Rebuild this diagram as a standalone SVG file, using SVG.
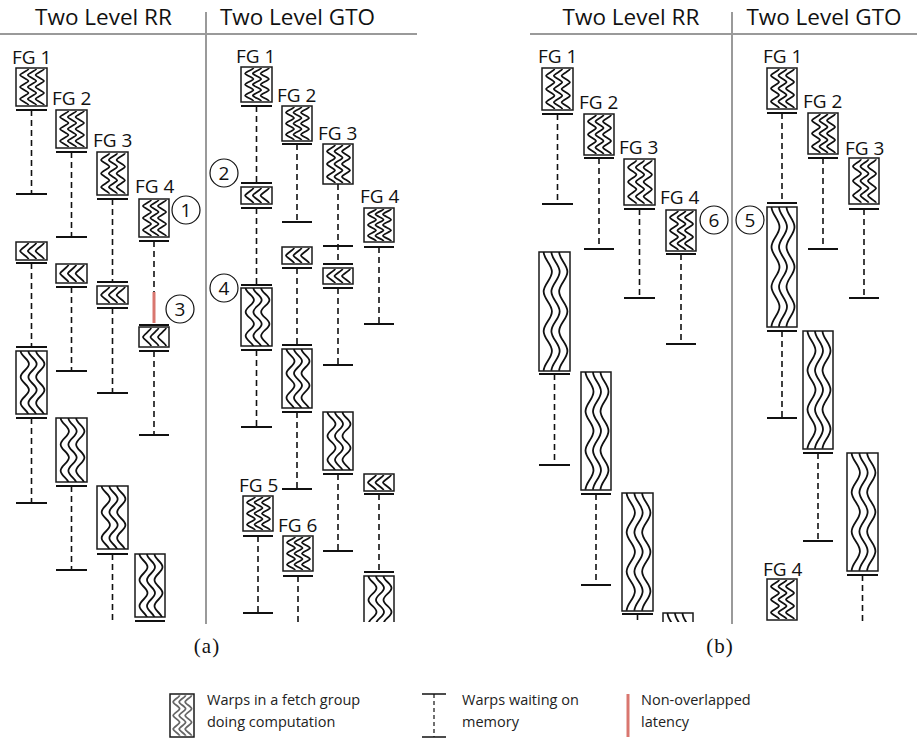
<svg xmlns="http://www.w3.org/2000/svg" xmlns:xlink="http://www.w3.org/1999/xlink" width="917" height="743" viewBox="0 0 917 743" style="color:#111">
<style>
.box{fill:#fff;stroke:#1a1a1a;stroke-width:1.5}
.wave{fill:none;stroke:currentColor;stroke-width:1.8;vector-effect:non-scaling-stroke}
.bar{stroke:#111;stroke-width:2.2}
.dash{stroke:#111;stroke-width:1.6;stroke-dasharray:6 4;fill:none}
.red{stroke:#d9766f;stroke-width:3}
.div{stroke:#9a9a9a;stroke-width:2}
.lbl{font-family:"Open Sans","Noto Sans",sans-serif;font-size:19px;fill:#111}
.hdr{font-family:"Open Sans","Noto Sans",sans-serif;font-size:22.5px;fill:#111;text-anchor:middle}
.circ{fill:#fff;stroke:#111;stroke-width:1.2}
.num{font-family:"Open Sans","Noto Sans",sans-serif;font-size:19px;fill:#111;text-anchor:middle}
.leg{font-family:"Open Sans","Noto Sans",sans-serif;font-size:14.5px;fill:#222}
.cap{font-family:"Liberation Serif",serif;font-size:21px;fill:#111;text-anchor:middle;letter-spacing:1px}
</style>
<defs>
<symbol id="fg" viewBox="0 0 30 38" preserveAspectRatio="none">
<path class="wave" d="M12,1 c0,1.5 -8,4.5 -8,6 s8,4.5 8,6 s-8,4.5 -8,6 s8,4.5 8,6 s-8,4.5 -8,6 s8,4.5 8,6 M19.5,1 c0,1.5 -8,4.5 -8,6 s8,4.5 8,6 s-8,4.5 -8,6 s8,4.5 8,6 s-8,4.5 -8,6 s8,4.5 8,6 M27,1 c0,1.5 -8,4.5 -8,6 s8,4.5 8,6 s-8,4.5 -8,6 s8,4.5 8,6 s-8,4.5 -8,6 s8,4.5 8,6"/>
</symbol>
<symbol id="sm" viewBox="0 0 30 18" preserveAspectRatio="none">
<path class="wave" d="M12,1 c0,1.5 -8,6.5 -8,8 s8,6.5 8,8 M19.5,1 c0,1.5 -8,6.5 -8,8 s8,6.5 8,8 M27,1 c0,1.5 -8,6.5 -8,8 s8,6.5 8,8"/>
</symbol>
<symbol id="tall" viewBox="0 0 30 63" preserveAspectRatio="none">
<path class="wave" d="M4.5,0 c0,5 8,8 8,13 s-8,8 -8,13 s8,8 8,13 s-8,8 -8,13 s8,8 8,13 M12,0 c0,5 8,8 8,13 s-8,8 -8,13 s8,8 8,13 s-8,8 -8,13 s8,8 8,13 M19.5,0 c0,5 8,8 8,13 s-8,8 -8,13 s8,8 8,13 s-8,8 -8,13 s8,8 8,13"/>
</symbol>
<symbol id="tall2" viewBox="0 0 30 119" preserveAspectRatio="none">
<path class="wave" d="M4.5,0 c0,7 8,12.5 8,19.8 s-8,12.5 -8,19.8 s8,12.5 8,19.8 s-8,12.5 -8,19.8 s8,12.5 8,19.8 s-8,12.5 -8,19.8 M12,0 c0,7 8,12.5 8,19.8 s-8,12.5 -8,19.8 s8,12.5 8,19.8 s-8,12.5 -8,19.8 s8,12.5 8,19.8 s-8,12.5 -8,19.8 M19.5,0 c0,7 8,12.5 8,19.8 s-8,12.5 -8,19.8 s8,12.5 8,19.8 s-8,12.5 -8,19.8 s8,12.5 8,19.8 s-8,12.5 -8,19.8"/>
</symbol>
<clipPath id="clip"><rect x="0" y="0" width="917" height="622"/></clipPath>
</defs>
<rect width="917" height="743" fill="#fff"/>

<g id="frame">
<line class="div" x1="0" y1="34" x2="417" y2="34"/>
<line class="div" x1="206" y1="12" x2="206" y2="624"/>
<line class="div" x1="530" y1="34" x2="917" y2="34"/>
<line class="div" x1="732" y1="12" x2="732" y2="624"/>
<text class="hdr" x="103.5" y="25">Two Level RR</text>
<text class="hdr" x="297.5" y="25">Two Level GTO</text>
<text class="hdr" x="631" y="25">Two Level RR</text>
<text class="hdr" x="824" y="25">Two Level GTO</text>
<text class="cap" x="207" y="653">(a)</text>
<text class="cap" x="720" y="653">(b)</text>
</g>

<g id="connectors" clip-path="url(#clip)">
<!-- left RR -->
<path class="dash" d="M31.5,110V194 M31.5,263V347 M31.5,418V503"/>
<path class="bar" d="M16,110H47 M16,194H47 M16,263H47 M16,347H47 M16,418H47 M16,503H47"/>
<path class="dash" d="M71.5,152V237 M71.5,287V371 M71.5,486V570"/>
<path class="bar" d="M56,152H87 M56,237H87 M56,287H87 M56,371H87 M56,486H87 M56,570H87"/>
<path class="dash" d="M112.5,199V282 M112.5,308V393 M112.5,554V625"/>
<path class="bar" d="M97,199H128 M97,282H128 M97,308H128 M97,393H128 M97,554H128"/>
<path class="dash" d="M154,241V292 M154,351V435"/>
<line class="red" x1="154" y1="292" x2="154" y2="323"/>
<path class="bar" d="M139,241H169 M139,325H169 M139,351H169 M139,435H169 M135,621H165"/>
<!-- left GTO -->
<path class="dash" d="M256.5,106V183 M256.5,208V285 M256.5,350V427 M258,536V613"/>
<path class="bar" d="M241,106H272 M241,183H272 M241,208H272 M241,285H272 M241,350H272 M241,427H272 M243,536H273 M243,613H273"/>
<path class="dash" d="M297,144V222 M297,268V345 M297,412V489 M298,576V625"/>
<path class="bar" d="M282,144H312 M282,222H312 M282,268H312 M282,345H312 M282,412H312 M282,489H312 M283,576H313"/>
<path class="dash" d="M338,184V264 M338,288V365 M338,474V551"/>
<path class="bar" d="M323,246H353 M323,264H353 M323,288H353 M323,365H353 M323,474H353 M323,551H353"/>
<path class="dash" d="M379,247V324 M379,494V572"/>
<path class="bar" d="M364,247H394 M364,324H394 M364,494H394 M364,572H394"/>
<!-- right RR -->
<path class="dash" d="M557.5,114V204 M554.5,374V465"/>
<path class="bar" d="M542,114H573 M542,204H573 M539,374H570 M539,465H570"/>
<path class="dash" d="M599,158V249 M596,494V585"/>
<path class="bar" d="M584,158H614 M584,249H614 M581,494H611 M581,585H611"/>
<path class="dash" d="M639.5,209V298 M637.5,614V625"/>
<path class="bar" d="M624,209H655 M624,298H655 M622,614H653"/>
<path class="dash" d="M681,254V344"/>
<path class="bar" d="M666,254H696 M666,344H696"/>
<!-- right GTO -->
<path class="dash" d="M782,113V203 M782,331V418"/>
<path class="bar" d="M767,113H797 M767,203H797 M767,331H797 M767,418H797"/>
<path class="dash" d="M823,158V249 M818,453V541"/>
<path class="bar" d="M808,158H838 M808,249H838 M803,453H833 M803,541H833"/>
<path class="dash" d="M864,209V298 M862.5,575V625"/>
<path class="bar" d="M849,209H879 M849,298H879 M847,575H878"/>
</g>

<g id="nodes" clip-path="url(#clip)">
<!-- left RR col1 -->
<g id="lrr-fg1"><text class="lbl" x="12" y="64">FG 1</text><rect class="box" x="16" y="68" width="31" height="38"/><use href="#fg" x="16" y="68" width="31" height="38"/></g>
<g id="lrr-fg1-b"><rect class="box" x="16" y="242" width="31" height="18"/><use href="#sm" x="16" y="242" width="31" height="18"/></g>
<g id="lrr-fg1-c"><rect class="box" x="16" y="351" width="31" height="63"/><use href="#tall" x="16" y="351" width="31" height="63"/></g>
<!-- col2 -->
<g id="lrr-fg2"><text class="lbl" x="52" y="105">FG 2</text><rect class="box" x="56" y="110" width="31" height="38"/><use href="#fg" x="56" y="110" width="31" height="38"/></g>
<g id="lrr-fg2-b"><rect class="box" x="56" y="264" width="31" height="19"/><use href="#sm" x="56" y="264" width="31" height="19"/></g>
<g id="lrr-fg2-c"><rect class="box" x="56" y="418" width="31" height="64"/><use href="#tall" x="56" y="418" width="31" height="64"/></g>
<!-- col3 -->
<g id="lrr-fg3"><text class="lbl" x="93" y="147">FG 3</text><rect class="box" x="97" y="152" width="31" height="43"/><use href="#fg" x="97" y="152" width="31" height="43"/></g>
<g id="lrr-fg3-b"><rect class="box" x="97" y="286" width="31" height="18"/><use href="#sm" x="97" y="286" width="31" height="18"/></g>
<g id="lrr-fg3-c"><rect class="box" x="97" y="486" width="31" height="63"/><use href="#tall" x="97" y="486" width="31" height="63"/></g>
<!-- col4 -->
<g id="lrr-fg4"><text class="lbl" x="135" y="193">FG 4</text><rect class="box" x="139" y="199" width="30" height="38"/><use href="#fg" x="139" y="199" width="30" height="38"/></g>
<g id="lrr-fg4-b"><rect class="box" x="139" y="327" width="30" height="20"/><use href="#sm" x="139" y="327" width="30" height="20"/></g>
<g id="lrr-fg4-c"><rect class="box" x="135" y="554" width="30" height="63"/><use href="#tall" x="135" y="554" width="30" height="63"/></g>

<!-- left GTO col1 -->
<g id="lgto-fg1"><text class="lbl" x="236" y="63">FG 1</text><rect class="box" x="241" y="67" width="31" height="35"/><use href="#fg" x="241" y="67" width="31" height="35"/></g>
<g id="lgto-fg1-b"><rect class="box" x="241" y="187" width="31" height="17"/><use href="#sm" x="241" y="187" width="31" height="17"/></g>
<g id="lgto-fg1-c"><rect class="box" x="241" y="288" width="31" height="58"/><use href="#tall" x="241" y="288" width="31" height="58"/></g>
<g id="lgto-fg5"><text class="lbl" x="239" y="492">FG 5</text><rect class="box" x="243" y="496" width="30" height="35"/><use href="#fg" x="243" y="496" width="30" height="35"/></g>
<!-- col2 -->
<g id="lgto-fg2"><text class="lbl" x="277" y="102">FG 2</text><rect class="box" x="282" y="106" width="30" height="35"/><use href="#fg" x="282" y="106" width="30" height="35"/></g>
<g id="lgto-fg2-b"><rect class="box" x="282" y="247" width="30" height="17"/><use href="#sm" x="282" y="247" width="30" height="17"/></g>
<g id="lgto-fg2-c"><rect class="box" x="282" y="349" width="30" height="59"/><use href="#tall" x="282" y="349" width="30" height="59"/></g>
<g id="lgto-fg6"><text class="lbl" x="278" y="532">FG 6</text><rect class="box" x="283" y="536" width="30" height="35"/><use href="#fg" x="283" y="536" width="30" height="35"/></g>
<!-- col3 -->
<g id="lgto-fg3"><text class="lbl" x="318" y="140">FG 3</text><rect class="box" x="323" y="144" width="30" height="40"/><use href="#fg" x="323" y="144" width="30" height="40"/></g>
<g id="lgto-fg3-b"><rect class="box" x="323" y="268" width="30" height="16"/><use href="#sm" x="323" y="268" width="30" height="16"/></g>
<g id="lgto-fg3-c"><rect class="box" x="323" y="412" width="30" height="58"/><use href="#tall" x="323" y="412" width="30" height="58"/></g>
<!-- col4 -->
<g id="lgto-fg4"><text class="lbl" x="360" y="203">FG 4</text><rect class="box" x="364" y="208" width="30" height="34"/><use href="#fg" x="364" y="208" width="30" height="34"/></g>
<g id="lgto-fg4-b"><rect class="box" x="364" y="474" width="30" height="17"/><use href="#sm" x="364" y="474" width="30" height="17"/></g>
<g id="lgto-fg4-c"><rect class="box" x="364" y="576" width="30" height="58"/><use href="#tall" x="364" y="576" width="30" height="58"/></g>

<!-- right RR -->
<g id="rrr-fg1"><text class="lbl" x="538" y="63">FG 1</text><rect class="box" x="542" y="68" width="31" height="42"/><use href="#fg" x="542" y="68" width="31" height="42"/></g>
<g id="rrr-fg1-c"><rect class="box" x="539" y="252" width="31" height="119"/><use href="#tall2" x="539" y="252" width="31" height="119"/></g>
<g id="rrr-fg2"><text class="lbl" x="579" y="109">FG 2</text><rect class="box" x="584" y="114" width="30" height="41"/><use href="#fg" x="584" y="114" width="30" height="41"/></g>
<g id="rrr-fg2-c"><rect class="box" x="581" y="372" width="30" height="118"/><use href="#tall2" x="581" y="372" width="30" height="118"/></g>
<g id="rrr-fg3"><text class="lbl" x="619" y="154">FG 3</text><rect class="box" x="624" y="159" width="31" height="46"/><use href="#fg" x="624" y="159" width="31" height="46"/></g>
<g id="rrr-fg3-c"><rect class="box" x="622" y="493" width="31" height="118"/><use href="#tall2" x="622" y="493" width="31" height="118"/></g>
<g id="rrr-fg4"><text class="lbl" x="660" y="204">FG 4</text><rect class="box" x="666" y="210" width="30" height="41"/><use href="#fg" x="666" y="210" width="30" height="41"/></g>
<g id="rrr-fg4-c"><rect class="box" x="663" y="613" width="30" height="118"/><use href="#tall2" x="663" y="613" width="30" height="118"/></g>

<!-- right GTO -->
<g id="rgto-fg1"><text class="lbl" x="763" y="63">FG 1</text><rect class="box" x="767" y="68" width="30" height="41"/><use href="#fg" x="767" y="68" width="30" height="41"/></g>
<g id="rgto-fg1-c"><rect class="box" x="767" y="207" width="30" height="120"/><use href="#tall2" x="767" y="207" width="30" height="120"/></g>
<g id="rgto-fg4"><text class="lbl" x="763" y="576">FG 4</text><rect class="box" x="767" y="579" width="30" height="41"/><use href="#fg" x="767" y="579" width="30" height="41"/></g>
<g id="rgto-fg2"><text class="lbl" x="803" y="108">FG 2</text><rect class="box" x="808" y="113" width="30" height="41"/><use href="#fg" x="808" y="113" width="30" height="41"/></g>
<g id="rgto-fg2-c"><rect class="box" x="803" y="331" width="30" height="118"/><use href="#tall2" x="803" y="331" width="30" height="118"/></g>
<g id="rgto-fg3"><text class="lbl" x="845" y="155">FG 3</text><rect class="box" x="849" y="158" width="30" height="46"/><use href="#fg" x="849" y="158" width="30" height="46"/></g>
<g id="rgto-fg3-c"><rect class="box" x="847" y="453" width="31" height="118"/><use href="#tall2" x="847" y="453" width="31" height="118"/></g>
</g>

<g id="markers">
<g id="m1"><circle class="circ" cx="186" cy="210" r="14"/><text class="num" x="186" y="217">1</text></g>
<g id="m3"><circle class="circ" cx="180" cy="309" r="14"/><text class="num" x="180" y="316">3</text></g>
<g id="m2"><circle class="circ" cx="224" cy="173" r="14"/><text class="num" x="224" y="180">2</text></g>
<g id="m4"><circle class="circ" cx="224" cy="288" r="14"/><text class="num" x="224" y="295">4</text></g>
<g id="m6"><circle class="circ" cx="714" cy="220" r="14"/><text class="num" x="714" y="227">6</text></g>
<g id="m5"><circle class="circ" cx="750" cy="220" r="14"/><text class="num" x="750" y="227">5</text></g>
</g>

<g id="legend">
<g id="leg-compute">
<rect class="box" x="170" y="694" width="24" height="43"/>
<use href="#fg" x="170" y="694" width="24" height="43" style="color:#666"/>
<text class="leg" x="207" y="705">Warps in a fetch group</text>
<text class="leg" x="207" y="727">doing computation</text>
</g>
<g id="leg-wait">
<line class="bar" x1="422" y1="694" x2="446" y2="694" style="stroke-width:1.5"/>
<line class="dash" x1="434" y1="694" x2="434" y2="737" style="stroke-width:1.2;stroke-dasharray:4 3"/>
<line class="bar" x1="422" y1="737" x2="446" y2="737" style="stroke-width:1.5"/>
<text class="leg" x="462" y="705">Warps waiting on</text>
<text class="leg" x="462" y="727">memory</text>
</g>
<g id="leg-latency">
<line class="red" x1="628" y1="694" x2="628" y2="737"/>
<text class="leg" x="641" y="705">Non-overlapped</text>
<text class="leg" x="641" y="727">latency</text>
</g>
</g>
</svg>
